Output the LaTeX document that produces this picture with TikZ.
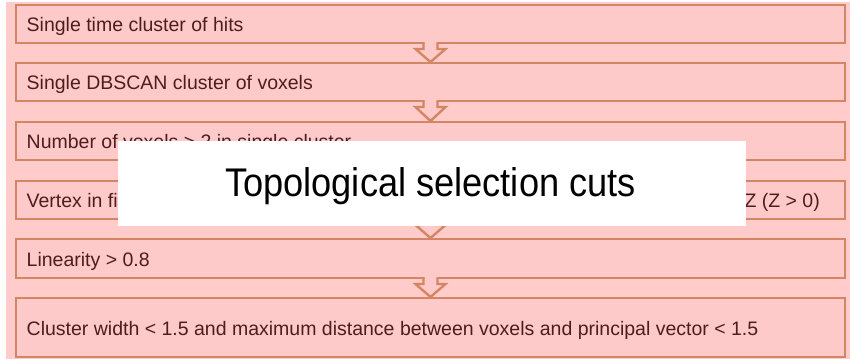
\documentclass[tikz,border=0pt]{standalone}
\usepackage{fontspec}
\setmainfont{Liberation Sans}
\usetikzlibrary{calc}
\definecolor{bgpink}{RGB}{255,203,203}
\definecolor{boxfill}{RGB}{253,201,201}
\definecolor{boxline}{RGB}{211,134,100}
\definecolor{txtcol}{RGB}{78,30,30}
\tikzset{
  stepbox/.style={draw=boxline, fill=boxfill, line width=2.4pt, minimum width=829pt, inner sep=0pt, outer sep=0pt, anchor=north west},
  steptxt/.style={font=\fontsize{19.5}{22}\selectfont, text=txtcol, inner sep=0pt, anchor=base west},
  flowarrow/.style={draw=boxline, line width=2.4pt, line join=miter},
}
\newcommand{\flowarr}[2]{%
  \fill[boxfill] ($(#1.south)+(-6,-2)$) -- ($(#1.south)+(6,-2)$) -- ($(#1.south)+(6,6)$) -- ($(#1.south)+(14,6)$) -- ($(#2.north)+(0,-1)$) -- ($(#1.south)+(-14,6)$) -- ($(#1.south)+(-6,6)$) -- cycle;
  \draw[flowarrow] ($(#1.south)+(-7,0)$) -- ($(#1.south)+(-7,6)$) -- ($(#1.south)+(-15,6)$) -- ($(#2.north)+(0,-1)$) -- ($(#1.south)+(15,6)$) -- ($(#1.south)+(7,6)$) -- ($(#1.south)+(7,0)$);
}
\begin{document}
\begin{tikzpicture}[x=1pt,y=-1pt]
\useasboundingbox (0,0) rectangle (850,361);
\fill[bgpink] (6,2) rectangle (850,359);
% boxes
\node[stepbox, minimum height=38pt] (b1) at (16,5) {};
\node[stepbox, minimum height=38pt] (b2) at (16,63) {};
\node[stepbox, minimum height=38pt] (b3) at (16,122) {};
\node[stepbox, minimum height=38pt] (b4) at (16,181) {};
\node[stepbox, minimum height=39pt] (b5) at (16,239) {};
\node[stepbox, minimum height=59pt] (b6) at (16,298) {};
% arrows
\flowarr{b1}{b2}
\flowarr{b2}{b3}
\flowarr{b3}{b4}
\flowarr{b4}{b5}
\flowarr{b5}{b6}
% texts
\node[steptxt] (t1) at ($(b1.west)+(10.5,7.8)$) {Single time cluster of hits};
\node[steptxt] (t2) at ($(b2.west)+(10.5,7.8)$) {Single DBSCAN cluster of voxels};
\node[steptxt] (t3) at ($(b3.west)+(10.5,7.8)$) {Number of voxels > 2 in single cluster};
\node[steptxt] (t4) at ($(b4.west)+(10.5,7.8)$) {Vertex in fi};
\node[steptxt, anchor=base east] (t4b) at ($(b4.east)+(-25,7.8)$) {Z (Z > 0)};
\node[steptxt] (t5) at ($(b5.west)+(10.5,7.8)$) {Linearity > 0.8};
\node[steptxt] (t6) at ($(b6.west)+(10.5,7.8)$) {Cluster width < 1.5 and maximum distance between voxels and principal vector < 1.5};
% title overlay
\fill[white] (118,141) rectangle (746,226);
\node[inner sep=0pt, anchor=base, font=\fontsize{40}{44}\selectfont, text=black] (title) at (430.5,196.7) {\scalebox{0.906}[1]{Topological selection cuts}};
\end{tikzpicture}
\end{document}
